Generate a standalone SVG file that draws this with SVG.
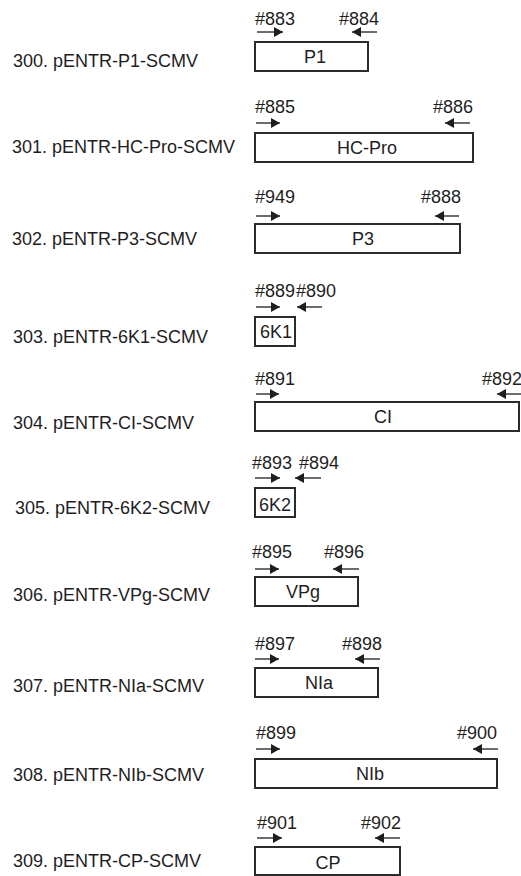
<svg xmlns="http://www.w3.org/2000/svg" width="521" height="876" viewBox="0 0 521 876">
<style>
text{font-family:"Liberation Sans",Arial,sans-serif;font-size:18px;fill:#1e1e1e}
.c{text-anchor:middle}
.box{fill:#fff;stroke:#2b2b2b;stroke-width:2}
.pr{stroke:#1e1e1e;stroke-width:1.3;fill:none;marker-end:url(#ah)}
</style>
<defs>
<marker id="ah" markerUnits="userSpaceOnUse" markerWidth="10" markerHeight="10" refX="9" refY="5" orient="auto">
<path d="M0,0 L9,5 L0,10 z" fill="#1e1e1e"/>
</marker>
</defs>
<rect width="521" height="876" fill="#fff"/>
<g id="row300">
<text x="13" y="67">300. pENTR-P1-SCMV</text>
<rect class="box" x="255" y="42" width="113" height="29"/>
<text class="c" x="315" y="63">P1</text>
<text x="255" y="25">#883</text><text x="339" y="25">#884</text>
</g>
<g id="row301">
<text x="12" y="153">301. pENTR-HC-Pro-SCMV</text>
<rect class="box" x="255" y="133" width="218" height="29"/>
<text class="c" x="367" y="154">HC-Pro</text>
<text x="255" y="113">#885</text><text x="433" y="113">#886</text>
</g>
<g id="row302">
<text x="12" y="245">302. pENTR-P3-SCMV</text>
<rect class="box" x="255" y="224" width="205" height="29"/>
<text class="c" x="363" y="245">P3</text>
<text x="255" y="203">#949</text><text x="421" y="203">#888</text>
</g>
<g id="row303">
<text x="13" y="343">303. pENTR-6K1-SCMV</text>
<rect class="box" x="255" y="317" width="40" height="29"/>
<text class="c" x="276" y="338">6K1</text>
<text x="255" y="297">#889</text><text x="296" y="297">#890</text>
</g>
<g id="row304">
<text x="13" y="429">304. pENTR-CI-SCMV</text>
<rect class="box" x="255" y="402" width="264" height="29"/>
<text class="c" x="383" y="423">CI</text>
<text x="255" y="385">#891</text><text x="482" y="385">#892</text>
</g>
<g id="row305">
<text x="15" y="514">305. pENTR-6K2-SCMV</text>
<rect class="box" x="255" y="488" width="40" height="29"/>
<text class="c" x="275" y="511">6K2</text>
<text x="252" y="469">#893</text><text x="299" y="469">#894</text>
</g>
<g id="row306">
<text x="13" y="601">306. pENTR-VPg-SCMV</text>
<rect class="box" x="255" y="577" width="103" height="29"/>
<text class="c" x="303" y="598">VPg</text>
<text x="252" y="558">#895</text><text x="324" y="558">#896</text>
</g>
<g id="row307">
<text x="13" y="692">307. pENTR-NIa-SCMV</text>
<rect class="box" x="255" y="668" width="123" height="29"/>
<text class="c" x="319" y="689">NIa</text>
<text x="255" y="650">#897</text><text x="342" y="650">#898</text>
</g>
<g id="row308">
<text x="13" y="781">308. pENTR-NIb-SCMV</text>
<rect class="box" x="255" y="759" width="242" height="29"/>
<text class="c" x="370" y="780">NIb</text>
<text x="256" y="739">#899</text><text x="457" y="739">#900</text>
</g>
<g id="row309">
<text x="13" y="867">309. pENTR-CP-SCMV</text>
<rect class="box" x="255" y="847" width="145" height="28"/>
<text class="c" x="328" y="869">CP</text>
<text x="257" y="829">#901</text><text x="361" y="829">#902</text>
</g>
<g id="primers">
<path class="pr" d="M257,32H283"/><path class="pr" d="M377,32H352"/>
<path class="pr" d="M256,123H280"/><path class="pr" d="M470,123H445"/>
<path class="pr" d="M256,216H280"/><path class="pr" d="M459,216H435"/>
<path class="pr" d="M256,307H280"/><path class="pr" d="M322,307H297"/>
<path class="pr" d="M256,394H279"/><path class="pr" d="M521,394H497"/>
<path class="pr" d="M255,478H280"/><path class="pr" d="M321,478H295"/>
<path class="pr" d="M255,569H279"/><path class="pr" d="M359,569H333"/>
<path class="pr" d="M255,659H279"/><path class="pr" d="M380,659H355"/>
<path class="pr" d="M256,749H280"/><path class="pr" d="M498,749H473"/>
<path class="pr" d="M257,838H282"/><path class="pr" d="M400,838H375"/>
</g>
</svg>
